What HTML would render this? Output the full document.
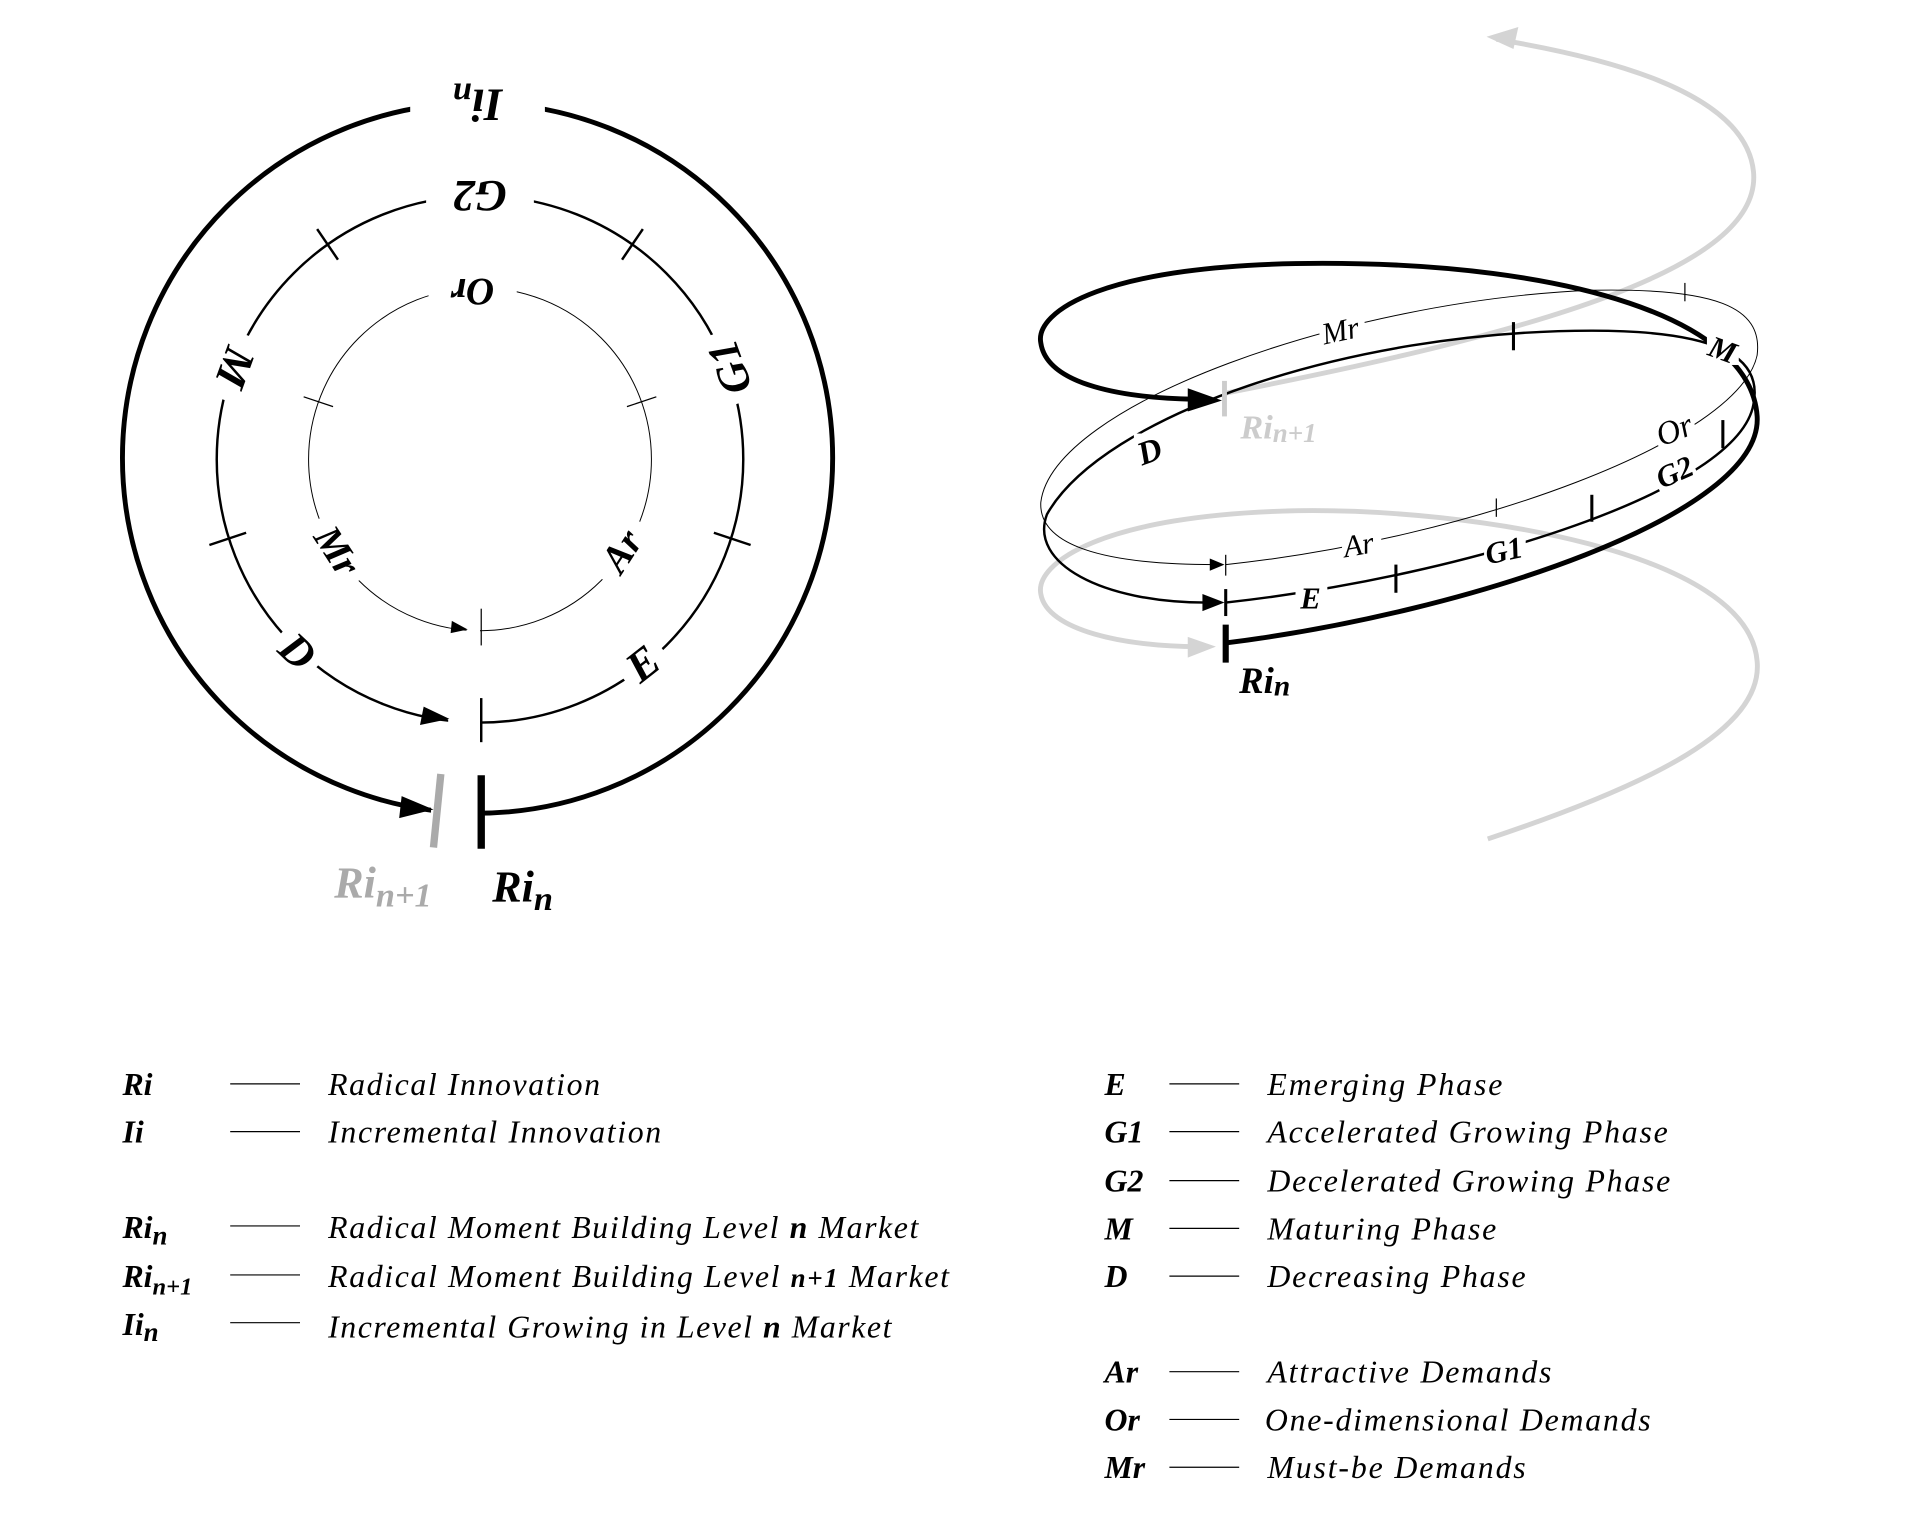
<!DOCTYPE html>
<html><head><meta charset="utf-8"><style>
html,body{margin:0;padding:0;background:#fff;}
svg{display:block;}
text{font-family:"Liberation Serif",serif;}
.lb{font-weight:bold;font-style:italic;}
.it{font-style:italic;}
</style></head><body>
<svg width="1920" height="1526" viewBox="0 0 1568 1246" preserveAspectRatio="none" xmlns="http://www.w3.org/2000/svg">
<rect width="1568" height="1246" fill="#fff"/>
<!-- LEFT DIAGRAM -->
<circle cx="390" cy="374" r="290" fill="none" stroke="#000" stroke-width="4"/>
<circle cx="392" cy="375" r="215" fill="none" stroke="#000" stroke-width="2"/>
<circle cx="392" cy="375" r="140" fill="none" stroke="#000" stroke-width="0.8"/>
<rect x="335" y="68" width="110" height="44" fill="#fff"/>
<rect x="352" y="648" width="39" height="30" fill="#fff"/>
<rect x="366" y="578" width="26" height="24" fill="#fff"/>
<rect x="381" y="505" width="11" height="16" fill="#fff"/>
<polygon points="354,661 328,650 326,668" fill="#000"/>
<polygon points="367,587 346,577 343,592" fill="#000"/>
<polygon points="382,514 369,507 368,517" fill="#000"/>
<line x1="393" y1="633" x2="393" y2="693" stroke="#000" stroke-width="6"/>
<line x1="360" y1="632" x2="354" y2="692" stroke="#aaa" stroke-width="6"/>
<line x1="393" y1="570" x2="393" y2="606" stroke="#000" stroke-width="2"/>
<line x1="393" y1="497" x2="393" y2="527" stroke="#000" stroke-width="1"/>
<line x1="276" y1="212" x2="259" y2="187" stroke="#000" stroke-width="2"/>
<line x1="508" y1="212" x2="525" y2="187" stroke="#000" stroke-width="2"/>
<line x1="201" y1="435" x2="171" y2="445" stroke="#000" stroke-width="2"/>
<line x1="583" y1="435" x2="613" y2="445" stroke="#000" stroke-width="2"/>
<line x1="272" y1="332" x2="248" y2="324" stroke="#000" stroke-width="1"/>
<line x1="512" y1="332" x2="536" y2="324" stroke="#000" stroke-width="1"/>
<g transform="translate(390,85) rotate(180)"><text class="lb" font-size="38" text-anchor="middle" dominant-baseline="central">Ii<tspan font-size="28" dy="8">n</tspan></text></g>
<g transform="translate(392,160) rotate(180)"><rect x="-44" y="-18" width="88" height="36" fill="#fff"/><text class="lb" font-size="36" text-anchor="middle" dominant-baseline="central">G2</text></g>
<g transform="translate(386,238) rotate(180)"><rect x="-36" y="-16" width="72" height="32" fill="#fff"/><text class="lb" font-size="32" text-anchor="middle" dominant-baseline="central">Or</text></g>
<g transform="translate(192,300) rotate(110)"><rect x="-28" y="-18" width="56" height="36" fill="#fff"/><text class="lb" font-size="36" text-anchor="middle" dominant-baseline="central">M</text></g>
<g transform="translate(596,300) rotate(-110)"><rect x="-30" y="-18" width="60" height="36" fill="#fff"/><text class="lb" font-size="36" text-anchor="middle" dominant-baseline="central">G1</text></g>
<g transform="translate(275,450) rotate(57)"><rect x="-30" y="-16" width="60" height="32" fill="#fff"/><text class="lb" font-size="32" text-anchor="middle" dominant-baseline="central">Mr</text></g>
<g transform="translate(508,450) rotate(-57)"><rect x="-28" y="-16" width="56" height="32" fill="#fff"/><text class="lb" font-size="32" text-anchor="middle" dominant-baseline="central">Ar</text></g>
<g transform="translate(243,532) rotate(43)"><rect x="-20" y="-18" width="40" height="36" fill="#fff"/><text class="lb" font-size="36" text-anchor="middle" dominant-baseline="central">D</text></g>
<g transform="translate(525,542) rotate(-38)"><rect x="-20" y="-18" width="40" height="36" fill="#fff"/><text class="lb" font-size="36" text-anchor="middle" dominant-baseline="central">E</text></g>
<text class="lb" font-size="36" x="273" y="733" fill="#aaa">Ri<tspan font-size="28" dy="7">n+1</tspan></text>
<text class="lb" font-size="36" x="402" y="736">Ri<tspan font-size="28" dy="7">n</tspan></text>

<!-- RIGHT DIAGRAM -->
<path d="M1001,321 C1250,272 1440,220 1432,140 C1425,72 1300,45 1222,32" fill="none" stroke="#d4d4d4" stroke-width="4"/>
<polygon points="1214,30 1240,22 1236,40" fill="#d4d4d4"/>
<path d="M1215,685 C1350,640 1440,595 1435,540 C1428,450 1200,415 1060,417 C900,420 845,460 850,485 C855,515 920,528 978,528" fill="none" stroke="#d4d4d4" stroke-width="4"/>
<polygon points="993,528 970,520 970,537" fill="#d4d4d4"/>
<path d="M1001,461 C1200,440 1420,360 1435,290 C1440,250 1400,235 1300,237 C1100,245 860,330 850,410 C848,445 900,461 992,461" fill="none" stroke="#000" stroke-width="0.8"/>
<polygon points="1000,461 988,456 988,466" fill="#000"/>
<path d="M1001,492 C1200,470 1420,400 1432,330 C1440,290 1400,270 1300,270 C1100,270 900,340 855,420 C840,460 900,492 985,492" fill="none" stroke="#000" stroke-width="2"/>
<polygon points="1000,492 982,485 982,499" fill="#000"/>
<path d="M1001,525 C1200,500 1440,420 1435,340 C1430,260 1280,215 1080,215 C900,215 845,255 850,280 C855,315 920,325 975,326" fill="none" stroke="#000" stroke-width="4"/>
<polygon points="998,327 970,317 970,336" fill="#000"/>
<line x1="1001" y1="510" x2="1001" y2="541" stroke="#000" stroke-width="5"/>
<line x1="1001" y1="481" x2="1001" y2="503" stroke="#000" stroke-width="2.5"/>
<line x1="1001" y1="453" x2="1001" y2="470" stroke="#000" stroke-width="1"/>
<line x1="1000" y1="311" x2="1000" y2="340" stroke="#ccc" stroke-width="4"/>
<line x1="1140" y1="461" x2="1140" y2="484" stroke="#000" stroke-width="2.5"/>
<line x1="1300" y1="404" x2="1300" y2="426" stroke="#000" stroke-width="2.5"/>
<line x1="1236" y1="263" x2="1236" y2="286" stroke="#000" stroke-width="2.5"/>
<line x1="1407" y1="343" x2="1407" y2="366" stroke="#000" stroke-width="2.5"/>
<line x1="1222" y1="407" x2="1222" y2="422" stroke="#000" stroke-width="1"/>
<line x1="1376" y1="231" x2="1376" y2="246" stroke="#000" stroke-width="1"/>
<rect x="1077" y="256" width="38" height="24" fill="#fff" transform="rotate(-12 1096 268)"/>
<text font-style="italic" font-size="25" x="1079" y="278" transform="rotate(-12 1096 268)">Mr</text>
<rect x="1096" y="434" width="32" height="22" fill="#fff"/>
<text font-style="italic" font-size="25" x="1097" y="453" transform="rotate(-10 1110 445)">Ar</text>
<rect x="1350" y="337" width="34" height="26" fill="#fff" transform="rotate(-22 1367 350)"/>
<text font-style="italic" font-size="27" x="1352" y="360" transform="rotate(-22 1367 350)">Or</text>
<rect x="1212" y="437" width="34" height="24" fill="#fff"/>
<text class="lb" font-size="25" x="1213" y="458" transform="rotate(-12 1228 450)">G1</text>
<rect x="1350" y="372" width="34" height="26" fill="#fff" transform="rotate(-24 1367 385)"/>
<text class="lb" font-size="25" x="1352" y="394" transform="rotate(-24 1367 385)">G2</text>
<rect x="1058" y="477" width="26" height="24" fill="#fff"/>
<text class="lb" font-size="25" x="1062" y="497">E</text>
<rect x="1394" y="272" width="26" height="26" fill="#fff"/>
<text class="lb" font-size="25" x="1396" y="294" transform="rotate(20 1407 285)">M</text>
<rect x="926" y="354" width="26" height="28" fill="#fff"/>
<text class="lb" font-size="27" x="929" y="377" transform="rotate(-20 940 368)">D</text>
<text class="lb" font-size="28" x="1013" y="358" fill="#ccc">Ri<tspan font-size="22" dy="3">n+1</tspan></text>
<text class="lb" font-size="30" x="1012" y="566">Ri<tspan font-size="24" dy="2">n</tspan></text>

<!-- LEGEND LEFT -->
<g font-size="26">
<text class="lb" x="100" y="894">Ri</text>
<text class="lb" x="100" y="933">Ii</text>
<text class="lb" x="100" y="1011">Ri<tspan font-size="22" dy="5">n</tspan></text>
<text class="lb" x="100" y="1051">Ri<tspan font-size="20" dy="6">n+1</tspan></text>
<text class="lb" x="100" y="1090">Ii<tspan font-size="22" dy="5">n</tspan></text>
<g stroke="#000" stroke-width="1">
<line x1="188" y1="885" x2="245" y2="885"/><line x1="188" y1="924" x2="245" y2="924"/>
<line x1="188" y1="1001" x2="245" y2="1001"/><line x1="188" y1="1041" x2="245" y2="1041"/>
<line x1="188" y1="1080" x2="245" y2="1080"/>
</g>
<text class="it" x="268" y="894" textLength="222">Radical Innovation</text>
<text class="it" x="268" y="933" textLength="272">Incremental Innovation</text>
<text class="it" x="268" y="1011" textLength="482">Radical Moment Building Level <tspan class="lb">n</tspan> Market</text>
<text class="it" x="268" y="1051" textLength="507">Radical Moment Building Level <tspan class="lb" font-size="22">n+1</tspan> Market</text>
<text class="it" x="268" y="1092" textLength="460">Incremental Growing in Level <tspan class="lb">n</tspan> Market</text>
</g>
<!-- LEGEND RIGHT -->
<g font-size="26">
<text class="lb" x="902" y="894">E</text>
<text class="lb" x="902" y="933">G1</text>
<text class="lb" x="902" y="973">G2</text>
<text class="lb" x="902" y="1012">M</text>
<text class="lb" x="902" y="1051">D</text>
<text class="lb" x="902" y="1129">Ar</text>
<text class="lb" x="902" y="1168">Or</text>
<text class="lb" x="902" y="1207">Mr</text>
<g stroke="#000" stroke-width="1">
<line x1="955" y1="885" x2="1012" y2="885"/><line x1="955" y1="924" x2="1012" y2="924"/>
<line x1="955" y1="964" x2="1012" y2="964"/><line x1="955" y1="1003" x2="1012" y2="1003"/>
<line x1="955" y1="1042" x2="1012" y2="1042"/><line x1="955" y1="1120" x2="1012" y2="1120"/>
<line x1="955" y1="1159" x2="1012" y2="1159"/><line x1="955" y1="1198" x2="1012" y2="1198"/>
</g>
<text class="it" x="1035" y="894" textLength="192">Emerging Phase</text>
<text class="it" x="1035" y="933" textLength="327">Accelerated Growing Phase</text>
<text class="it" x="1035" y="973" textLength="329">Decelerated Growing Phase</text>
<text class="it" x="1035" y="1012" textLength="187">Maturing Phase</text>
<text class="it" x="1035" y="1051" textLength="211">Decreasing Phase</text>
<text class="it" x="1035" y="1129" textLength="232">Attractive Demands</text>
<text class="it" x="1033" y="1168" textLength="315">One-dimensional Demands</text>
<text class="it" x="1035" y="1207" textLength="211">Must-be Demands</text>
</g>
</svg>
</body></html>
